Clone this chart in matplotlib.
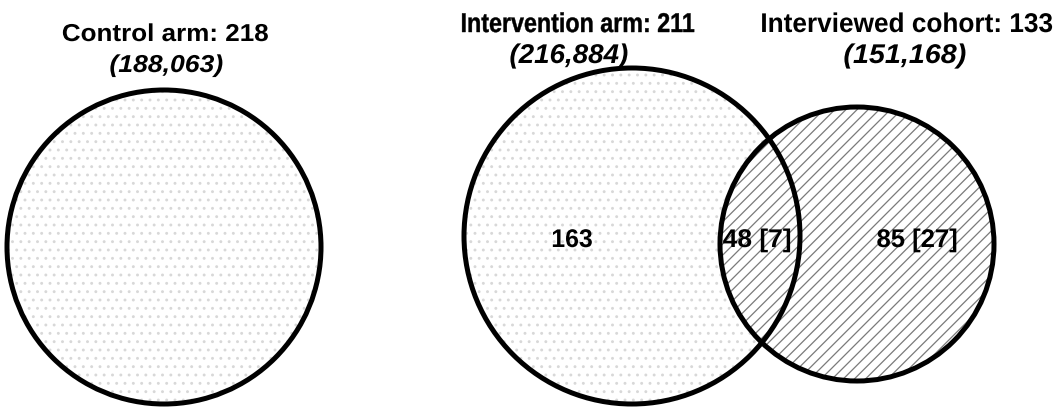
import matplotlib
matplotlib.use("Agg")
import matplotlib.pyplot as plt
from matplotlib.patches import Ellipse
from matplotlib.patheffects import AbstractPathEffect
from matplotlib.transforms import Affine2D

# ---- data ----
group_names = ["Control arm", "Intervention arm", "Interviewed cohort"]
group_counts = [218, 211, 133]
group_totals = ["188,063", "216,884", "151,168"]
region_labels = ["163", "48 [7]", "85 [27]"]

# ---- layout (pixel coordinates) ----
circle_centers = [(164, 247), (632, 236), (857, 244)]
circle_radii = [157, 168, 137]
title_pos = [(165, 41), (578, 32), (907, 32)]
title_size = [17.6, 19.5, 19.5]
title_width = [205, 232, 290]
title_bold = [0.0, 0.3, 0.0]
sub_pos = [(166, 72), (569, 63), (905, 63)]
sub_width = [112, 117, 121]
region_pos = [(572, 247), (757, 247), (917, 247)]
region_width = [39, 67, 79]


class HFit(AbstractPathEffect):
    """Draw the text glyphs squeezed/stretched horizontally to a pixel width."""

    def __init__(self, width_px, stroke=0.0):
        super().__init__()
        self.width_px = width_px
        self.stroke = stroke

    def draw_path(self, renderer, gc, tpath, affine, rgbFace=None):
        ext = tpath.get_extents(affine)
        w = ext.x1 - ext.x0
        sx = self.width_px / w if w > 0 else 1.0
        cx = 0.5 * (ext.x0 + ext.x1)
        tr = affine + Affine2D().translate(-cx, 0).scale(sx, 1).translate(cx, 0)
        gc0 = renderer.new_gc()
        gc0.copy_properties(gc)
        if self.stroke > 0:
            gc0.set_linewidth(self.stroke)
            gc0.set_foreground(rgbFace if rgbFace is not None else 'black')
        renderer.draw_path(gc0, tpath, tr, rgbFace)
        gc0.restore()


plt.rcParams['hatch.linewidth'] = 0.9
fig = plt.figure(figsize=(10.63, 4.09), dpi=100)
ax = fig.add_axes([0, 0, 1, 1])
ax.set_xlim(0, 1063)
ax.set_ylim(409, 0)
ax.axis('off')

styles = [dict(hatch='..', hc='#d8d8d8'),
          dict(hatch='..', hc='#d8d8d8'),
          dict(hatch='///', hc='#7a7a7a')]

for (cx, cy), r, st in zip(circle_centers, circle_radii, styles):
    fill = Ellipse((cx, cy), 2 * r, 2 * r, facecolor='white',
                   edgecolor=st['hc'], hatch=st['hatch'], linewidth=0, zorder=1)
    ax.add_patch(fill)

for (cx, cy), r in zip(circle_centers, circle_radii):
    ax.add_patch(Ellipse((cx, cy), 2 * r, 2 * r, facecolor='none',
                         edgecolor='black', linewidth=3.6, zorder=3))

font = 'Liberation Sans'
for i, (name, n, tot) in enumerate(zip(group_names, group_counts, group_totals)):
    tx, ty = title_pos[i]
    sx, sy = sub_pos[i]
    ax.text(tx, ty, f"{name}: {n}", ha='center', va='baseline',
            fontsize=title_size[i], fontweight='bold', family=font, zorder=5,
            path_effects=[HFit(title_width[i], title_bold[i])])
    ax.text(sx, sy, f"({tot})", ha='center', va='baseline',
            fontsize=title_size[i], fontweight='bold', fontstyle='italic',
            family=font, zorder=5, path_effects=[HFit(sub_width[i])])

for lab, (x, y), w in zip(region_labels, region_pos, region_width):
    ax.text(x, y, lab, ha='center', va='baseline', fontsize=18.4,
            fontweight='bold', family=font, zorder=5, path_effects=[HFit(w)])

fig.savefig('out.png', dpi=100)
